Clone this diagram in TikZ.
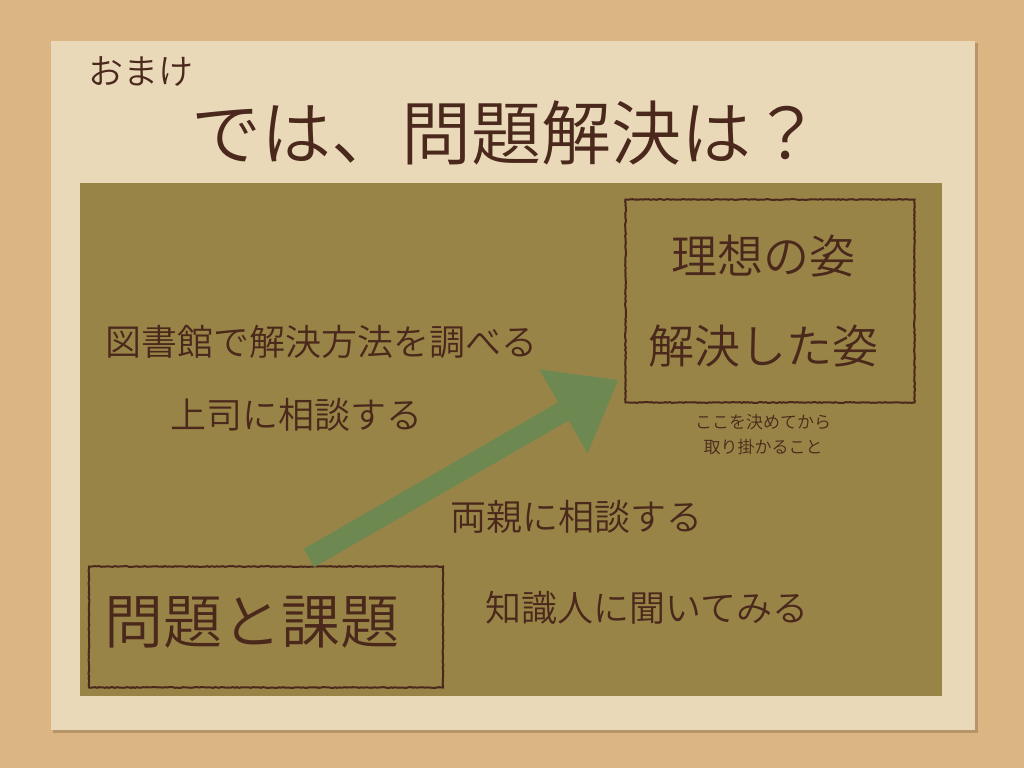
\documentclass[tikz,border=0pt]{standalone}
\usepackage{fontspec}
\newfontfamily\jp{Noto Sans CJK JP DemiLight}
\usepackage{xcolor}
\usetikzlibrary{arrows.meta,positioning,decorations.pathmorphing}
\definecolor{cork}{HTML}{DBB683}
\definecolor{paper}{HTML}{E9D9B9}
\definecolor{paperedge}{HTML}{B8946A}
\definecolor{olive}{HTML}{998447}
\definecolor{leaf}{HTML}{6E8852}
\definecolor{ink}{HTML}{4A281C}

\begin{document}
\begin{tikzpicture}[x=1pt,y=-1pt,
    box/.style={draw=ink, line width=2pt, decorate,
        decoration={random steps,segment length=2pt,amplitude=0.4pt}},
    lbl/.style={text=ink, inner sep=0pt, align=center}]
\fill[cork] (0,0) rectangle (1024,768);
\fill[paperedge] (53,43) rectangle (978,733);
\fill[paper] (51,41) rectangle (975,730);
\fill[olive] (80,183) rectangle (942,696);
% heading
\node[lbl, font=\jp\fontsize{35}{35}\selectfont] (extra) at (141,72) {おまけ};
\node[lbl, font=\jp\fontsize{70}{70}\selectfont] (title) at (506,133) {では、問題解決は？};
% goal and start
\node[box, minimum width=289, minimum height=203] (goal) at (770,301) {};
\node[lbl, font=\jp\fontsize{46}{90}\selectfont] (goaltext) at (763,301) {理想の姿\\解決した姿};
\node[lbl, font=\jp\fontsize{17}{25}\selectfont] (note) at (763,435) {ここを決めてから\\取り掛かること};
\node[box, minimum width=354, minimum height=121] (start) at (266,627) {};
\node[lbl, font=\jp\fontsize{59}{59}\selectfont] (starttext) at (252,622) {問題と課題};
% ways
\node[lbl, font=\jp\fontsize{36}{36}\selectfont] (library) at (321,342) {図書館で解決方法を調べる};
\node[lbl, font=\jp\fontsize{36}{36}\selectfont] (boss) at (296,415) {上司に相談する};
\node[lbl, font=\jp\fontsize{36}{36}\selectfont] (parents) at (576,517) {両親に相談する};
\node[lbl, font=\jp\fontsize{36}{36}\selectfont] (expert) at (647,608) {知識人に聞いてみる};
\coordinate (tail) at (309,558);
\coordinate (tip) at (618,380);
\draw[leaf, line width=21pt, -{Triangle[width=97pt,length=63pt,line width=0pt]}] (tail) -- (tip);
\end{tikzpicture}
\end{document}
